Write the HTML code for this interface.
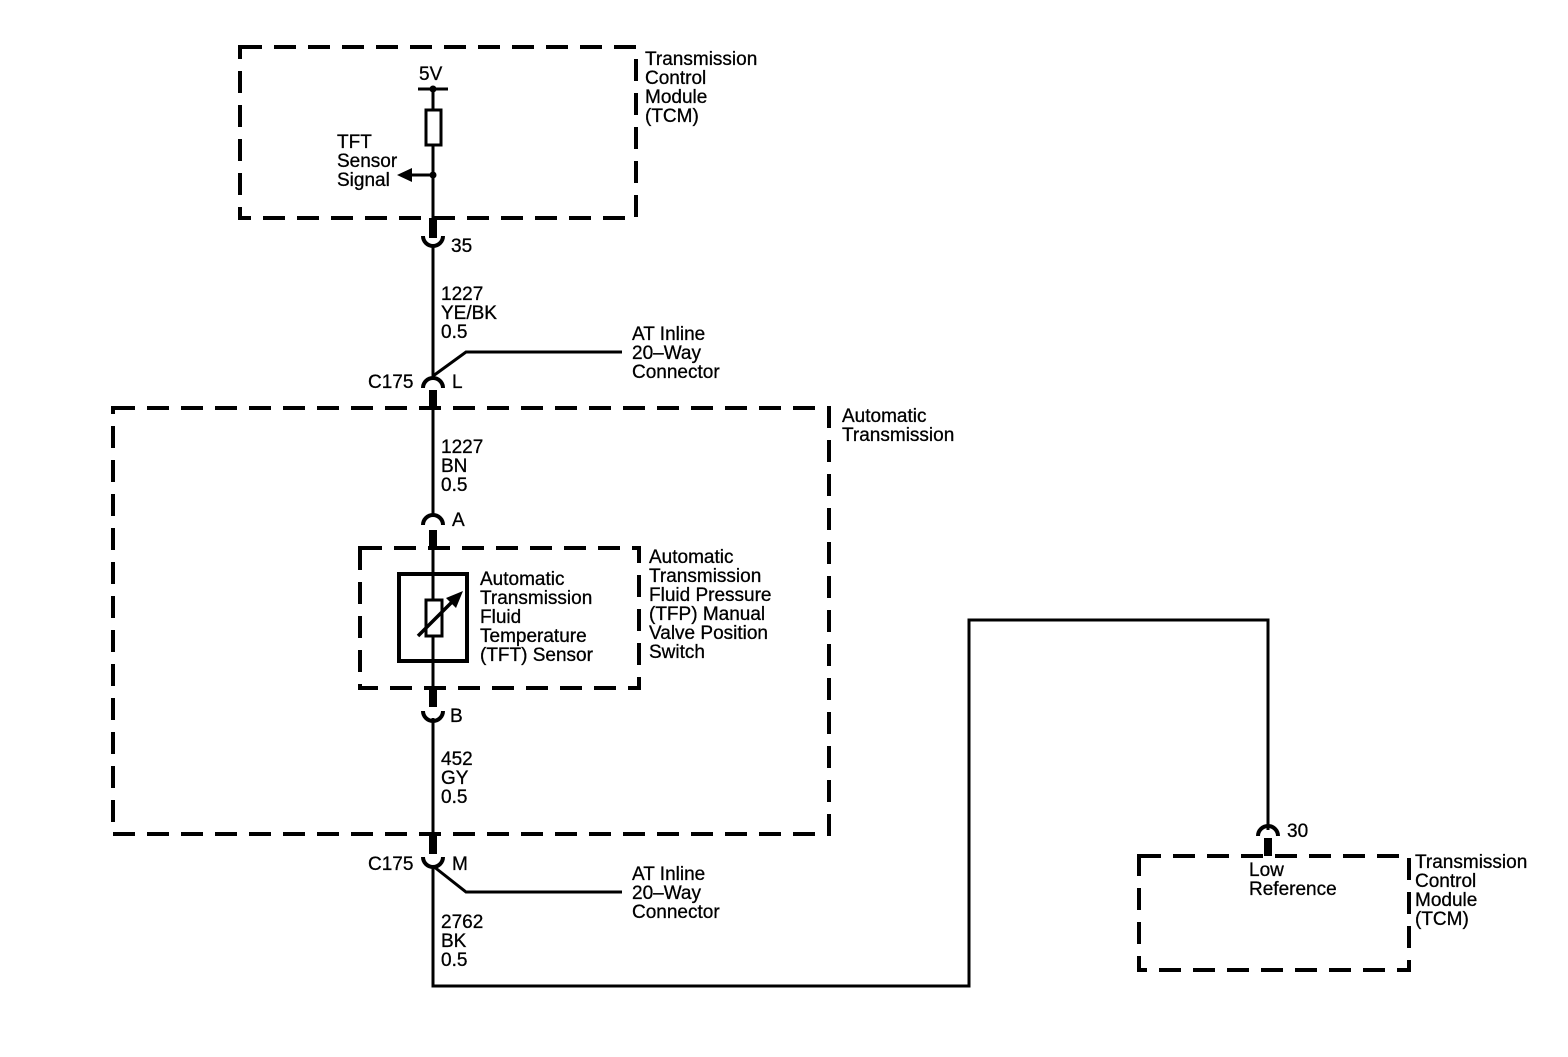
<!DOCTYPE html>
<html><head><style>
body{margin:0;background:#fff}
svg text{font-family:"Liberation Sans",Arial,sans-serif;font-size:19px;fill:#000;stroke:#000;stroke-width:0.3}
</style></head><body>
<svg width="1568" height="1052" viewBox="0 0 1568 1052" xmlns="http://www.w3.org/2000/svg">
<g fill="none" stroke="#000" stroke-width="4" stroke-dasharray="22,12">
<rect x="240" y="47" width="396" height="171"/>
<rect x="113" y="408" width="716" height="426"/>
<rect x="360" y="548" width="279" height="140"/>
<rect x="1139" y="856" width="270" height="114"/>
</g>
<g fill="none" stroke="#000" stroke-width="3">
<line x1="433" y1="89" x2="433" y2="222"/>
<line x1="418" y1="89" x2="448" y2="89"/>
<line x1="433" y1="246" x2="433" y2="380"/>
<line x1="433" y1="410" x2="433" y2="515"/>
<line x1="433" y1="548" x2="433" y2="690"/>
<line x1="433" y1="718" x2="433" y2="836"/>
<polyline points="433,866 433,986 969,986 969,620 1268,620 1268,830"/>
<polyline points="433,376 466,352 622,352"/>
<polyline points="433,866 466,892 622,892"/>
</g>
<g fill="none" stroke="#000" stroke-width="4">
<path d="M423,236 A10,10 0 0 0 443,236"/>
<path d="M423,388 A10,10 0 0 1 443,388"/>
<path d="M423,525 A10,10 0 0 1 443,525"/>
<path d="M423,711 A10,10 0 0 0 443,711"/>
<path d="M423,857 A10,10 0 0 0 443,857"/>
<path d="M1258,836 A10,10 0 0 1 1278,836"/>
</g>
<g stroke="#000" stroke-width="8">
<line x1="433" y1="218" x2="433" y2="238"/>
<line x1="433" y1="390" x2="433" y2="410"/>
<line x1="433" y1="530" x2="433" y2="550"/>
<line x1="433" y1="688" x2="433" y2="707"/>
<line x1="433" y1="834" x2="433" y2="854"/>
<line x1="1268" y1="838" x2="1268" y2="856"/>
</g>
<rect x="426" y="110" width="15" height="35" fill="#fff" stroke="#000" stroke-width="3"/>
<circle cx="433" cy="89" r="3.5"/>
<circle cx="433" cy="175" r="3.5"/>
<line x1="433" y1="175" x2="410" y2="175" stroke="#000" stroke-width="3"/>
<polygon points="397,175 412,168 412,182"/>
<rect x="399" y="574" width="68" height="87" fill="none" stroke="#000" stroke-width="4"/>
<rect x="426" y="600" width="16" height="36" fill="#fff" stroke="#000" stroke-width="3"/>
<line x1="418" y1="636" x2="455" y2="599" stroke="#000" stroke-width="3.5"/>
<polygon points="463,591 446,598 456,608"/>
<text x="419" y="80">5V</text>
<text x="337" y="148">TFT</text><text x="337" y="167">Sensor</text><text x="337" y="186">Signal</text>
<text x="645" y="65">Transmission</text><text x="645" y="84">Control</text><text x="645" y="103">Module</text><text x="645" y="122">(TCM)</text>
<text x="451" y="252">35</text>
<text x="441" y="300">1227</text><text x="441" y="319">YE/BK</text><text x="441" y="338">0.5</text>
<text x="632" y="340">AT Inline</text><text x="632" y="359">20–Way</text><text x="632" y="378">Connector</text>
<text x="368" y="388">C175</text><text x="452" y="388">L</text>
<text x="842" y="422">Automatic</text><text x="842" y="441">Transmission</text>
<text x="441" y="453">1227</text><text x="441" y="472">BN</text><text x="441" y="491">0.5</text>
<text x="452" y="526">A</text>
<text x="480" y="585">Automatic</text><text x="480" y="604">Transmission</text><text x="480" y="623">Fluid</text><text x="480" y="642">Temperature</text><text x="480" y="661">(TFT) Sensor</text>
<text x="649" y="563">Automatic</text><text x="649" y="582">Transmission</text><text x="649" y="601">Fluid Pressure</text><text x="649" y="620">(TFP) Manual</text><text x="649" y="639">Valve Position</text><text x="649" y="658">Switch</text>
<text x="450" y="722">B</text>
<text x="441" y="765">452</text><text x="441" y="784">GY</text><text x="441" y="803">0.5</text>
<text x="368" y="870">C175</text><text x="452" y="870">M</text>
<text x="632" y="880">AT Inline</text><text x="632" y="899">20–Way</text><text x="632" y="918">Connector</text>
<text x="441" y="928">2762</text><text x="441" y="947">BK</text><text x="441" y="966">0.5</text>
<text x="1287" y="837">30</text>
<text x="1249" y="876">Low</text><text x="1249" y="895">Reference</text>
<text x="1415" y="868">Transmission</text><text x="1415" y="887">Control</text><text x="1415" y="906">Module</text><text x="1415" y="925">(TCM)</text>
</svg>
</body></html>
